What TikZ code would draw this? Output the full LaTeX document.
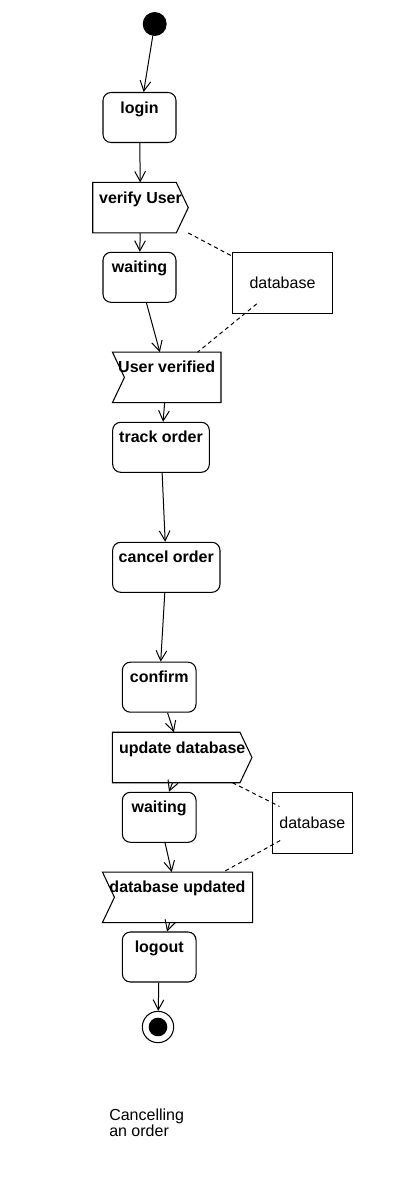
\documentclass[tikz,border=0pt]{standalone}
\usepackage{fontspec}
\setmainfont{Liberation Sans}
\usetikzlibrary{arrows.meta}

\tikzset{
  activity/.style = {draw, rounded corners=6pt, line width=0.8pt, inner sep=0pt,
    font=\fontsize{12}{14}\selectfont\bfseries, text height=15.4pt, text depth=22.1pt},
  sendbox/.style = {inner sep=0pt, font=\fontsize{12}{14}\selectfont\bfseries,
    text height=15.4pt, text depth=22.1pt},
  recvbox/.style = {sendbox},
  object/.style = {draw, line width=0.8pt, minimum height=45.75pt,
    font=\fontsize{12}{14}\selectfont},
  flow/.style = {-{Straight Barb[length=7.5pt,width=8pt]}, line width=0.75pt},
  assoc/.style = {dash pattern=on 3pt off 2.5pt, line width=0.75pt}
}

\begin{document}
\begin{tikzpicture}[x=0.75pt, y=-0.75pt]
\useasboundingbox (0,0) rectangle (402,1198);

\node[circle, fill, inner sep=0pt, minimum size=18pt] (start) at (154.7,24) {};
\node[activity, minimum width=54.75pt] (login) at (139.5,117.5) {login};
\node[sendbox, minimum width=71.25pt] (verify) at (140.5,207.7) {verify User};
\node[activity, minimum width=54.75pt] (wait1) at (139.5,277.3) {waiting};
\node[object, minimum width=75pt] (db1) at (282.5,282.8) {database};
\node[recvbox, minimum width=81pt] (verified) at (166.7,377.4) {User verified};
\node[activity, minimum width=72.5pt] (track) at (161,447.3) {track order};
\node[activity, minimum width=80.5pt] (cancel) at (166.3,567.3) {cancel order};
\node[activity, minimum width=55.25pt] (confirm) at (159.2,687.2) {confirm};
\node[sendbox, minimum width=104.25pt] (update) at (182.2,757.5) {update database};
\node[activity, minimum width=55.25pt] (wait2) at (159.2,817.3) {waiting};
\node[object, minimum width=60pt] (db2) at (312.3,822.8) {database};
\node[recvbox, minimum width=112.2pt] (updated) at (177.5,897.3) {database updated};
\node[activity, minimum width=55.25pt] (logout) at (159.2,957) {logout};
\node[circle, draw, line width=0.8pt, inner sep=0pt, minimum size=23.5pt] (final) at (158,1027) {};
\fill (final.center) circle (7pt);
\node[anchor=north west, inner sep=0pt, align=left,
  font=\fontsize{12}{12}\selectfont] (caption) at (109,1109) {Cancelling\\an order};

% signal outlines
\draw[line width=0.8pt] (verify.north west) -- ([xshift=-9pt]verify.north east) -- (verify.east)
  -- ([xshift=-9pt]verify.south east) -- (verify.south west) -- cycle;
\draw[line width=0.8pt] (update.north west) -- ([xshift=-9pt]update.north east) -- (update.east)
  -- ([xshift=-9pt]update.south east) -- (update.south west) -- cycle;
\draw[line width=0.8pt] (verified.north west) -- (verified.north east) -- (verified.south east)
  -- (verified.south west) -- ([xshift=9pt]verified.west) -- cycle;
\draw[line width=0.8pt] (updated.north west) -- (updated.north east) -- (updated.south east)
  -- (updated.south west) -- ([xshift=9pt]updated.west) -- cycle;

\path[flow] (start) edge (login)
    (login) edge (verify)
    (verify) edge (wait1)
    (wait1) edge (verified)
    (verified) edge (track)
    (track) edge (cancel)
    (cancel) edge (confirm)
    (confirm) edge (update)
    (update) edge (wait2)
    (wait2) edge (updated)
    (updated) edge (logout)
    (logout) edge (final);

\path[assoc] (verify) edge (db1)
    (db1) edge [shorten <=-11.8pt] (verified)
    (update) edge [shorten >=-6.5pt] (db2)
    (db2) edge [shorten <=-7.2pt] (updated);
\end{tikzpicture}
\end{document}
